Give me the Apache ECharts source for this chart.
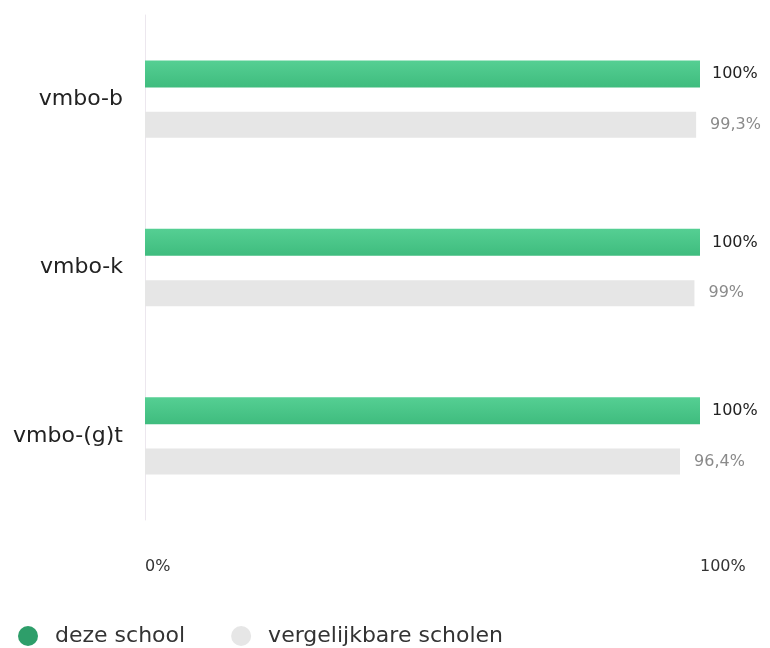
<!DOCTYPE html>
<html>
<head>
<meta charset="utf-8">
<script src="https://cdn.jsdelivr.net/npm/echarts@6/dist/echarts.min.js"></script>
<style>
  html, body { margin: 0; padding: 0; background: #fff; }
  #chart { width: 770px; height: 648px; }
</style>
</head>
<body>
<div id="chart"></div>
<script>
var categories = ['vmbo-b', 'vmbo-k', 'vmbo-(g)t'];
var dezeSchool = [100, 100, 100];
var vergelijkbaar = [99.3, 99, 96.4];
var seriesNames = ['deze school', 'vergelijkbare scholen'];

function pct(v) {
    return String(v).replace('.', ',') + '%';
}

var myChart = echarts.init(document.getElementById('chart'));
var option = {
    animation: false,
    textStyle: { fontFamily: 'DejaVu Sans' },
    grid: { left: 145, right: 70, top: 15, bottom: 128 },
    legend: {
        left: 13,
        top: 620,
        icon: 'circle',
        itemWidth: 20,
        itemHeight: 20,
        itemGap: 46,
        textStyle: { fontSize: 22, color: '#333', padding: [0, 0, 0, 12] },
        data: [
            { name: seriesNames[0], itemStyle: { color: '#2e9e6a' } },
            { name: seriesNames[1], itemStyle: { color: '#e6e6e6' } }
        ]
    },
    xAxis: {
        type: 'value',
        min: 0,
        max: 100,
        interval: 100,
        axisLine: { show: false },
        axisTick: { show: false },
        splitLine: { show: false },
        axisLabel: {
            margin: 39,
            align: 'left',
            fontSize: 16,
            color: '#333',
            formatter: function (v) { return v + '%'; }
        }
    },
    yAxis: {
        type: 'category',
        inverse: true,
        data: categories,
        axisLine: { show: true, lineStyle: { color: '#ece7ee', width: 1 } },
        axisTick: { show: false },
        axisLabel: {
            margin: 22,
            fontSize: 22,
            color: '#222',
            padding: [0, 0, 10, 0]
        }
    },
    series: [
        {
            name: seriesNames[0],
            type: 'bar',
            data: dezeSchool,
            barWidth: 27,
            barGap: '90%',
            itemStyle: {
                color: new echarts.graphic.LinearGradient(0, 0, 0, 1, [
                    { offset: 0, color: '#55cf93' },
                    { offset: 1, color: '#3fbc7e' }
                ])
            },
            label: {
                show: true,
                position: 'right',
                distance: 12,
                fontSize: 16,
                color: '#222',
                formatter: function (p) { return pct(p.value); }
            }
        },
        {
            name: seriesNames[1],
            type: 'bar',
            data: vergelijkbaar,
            barWidth: 26,
            itemStyle: { color: '#e6e6e6' },
            label: {
                show: true,
                position: 'right',
                distance: 14,
                fontSize: 16,
                color: '#8a8a8a',
                formatter: function (p) { return pct(p.value); }
            }
        }
    ]
};
myChart.setOption(option);
</script>
</body>
</html>
